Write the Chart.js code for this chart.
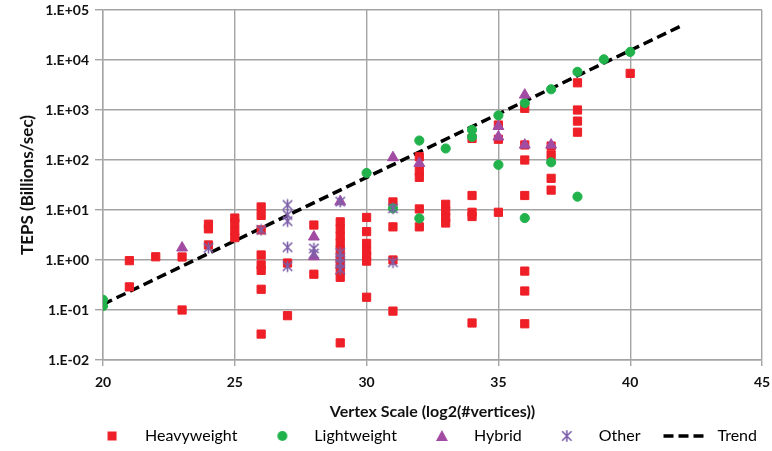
<!DOCTYPE html>
<html><head><meta charset="utf-8">
<script src="https://cdn.jsdelivr.net/npm/chart.js@4.4.0/dist/chart.umd.min.js"></script>
<style>html,body{margin:0;padding:0;background:#fff;}canvas{display:block;}</style>
</head><body>
<canvas id="c" width="772" height="451"></canvas>
<script>
// ---------- data ----------
const seriesNames = ['Heavyweight', 'Lightweight', 'Hybrid', 'Other', 'Trend'];
const heavyweight = [
  [21,0.97],[21,0.29],
  [22,1.16],
  [23,1.15],[23,0.10],
  [24,5.2],[24,4.2],[24,2.0],
  [25,6.9],[25,5.5],[25,3.8],[25,2.8],
  [26,11.5],[26,7.8],[26,4.0],[26,1.26],[26,0.8],[26,0.62],[26,0.26],[26,0.033],
  [27,0.87],[27,0.077],
  [28,5.0],[28,0.52],
  [29,5.8],[29,4.2],[29,3.0],[29,2.2],[29,1.6],[29,1.1],[29,0.8],[29,0.6],[29,0.45],[29,0.022],
  [30,7.1],[30,3.7],[30,2.15],[30,1.5],[30,1.2],[30,0.95],[30,0.18],
  [31,14.5],[31,4.6],[31,1.0],[31,0.095],
  [32,116],[32,60],[32,45],[32,10.5],[32,4.6],
  [33,13],[33,9.5],[33,7.0],[33,5.5],
  [34,270],[34,19.5],[34,9.0],[34,7.4],[34,0.055],
  [35,500],[35,260],[35,9.0],
  [36,1080],[36,200],[36,100],[36,19.5],[36,0.6],[36,0.24],[36,0.053],
  [37,190],[37,126],[37,43],[37,25],
  [38,3500],[38,1000],[38,600],[38,360],
  [40,5400]
];
const lightweight = [
  [20,0.16],[20,0.12],[30,55],[31,10.8],[32,245],[32,6.8],[33,170],
  [34,400],[34,290],[35,780],[35,80],[36,1380],[36,6.9],[37,2600],[37,90],
  [38,5800],[38,18.5],[39,10300],[40,14500]
];
const hybrid = [
  [23,1.75],[28,2.9],[28,1.17],[29,14.7],[31,112],[32,86],
  [35,470],[35,290],[36,2000],[36,200],[37,200]
];
const other = [
  [24,1.75],[26,4.0],[27,12.6],[27,8.0],[27,6.0],[27,1.8],[27,0.75],
  [28,1.7],[28,1.35],[29,14.7],[29,1.4],[29,1.1],[29,0.85],[29,0.65],[31,10.8],[31,0.9]
];
const trend = [[20,0.13],[42,50000]];
const yTickValues = [0.01, 0.1, 1, 10, 100, 1000, 10000, 100000];
const xTickValues = [20, 25, 30, 35, 40, 45];

// ---------- styles ----------
const RED = '#ee1f27', GREEN = '#22b24c', MAGENTA = '#a24ba3', VIOLET = '#7d5fa9';
const FONT = 'Lato';

function markerCanvas(kind, color, W, H, cx) {
  const c = document.createElement('canvas');
  c.width = W; c.height = H;
  const g = c.getContext('2d');
  const cy = H / 2;
  g.fillStyle = color; g.strokeStyle = color;
  if (kind === 'square') { g.fillRect(cx - 4.5, cy - 4.5, 9, 9); }
  else if (kind === 'circle') { g.beginPath(); g.arc(cx, cy, 5, 0, Math.PI * 2); g.fill(); }
  else if (kind === 'triangle') { g.beginPath(); g.moveTo(cx, cy - 6); g.lineTo(cx + 6, cy + 5); g.lineTo(cx - 6, cy + 5); g.closePath(); g.fill(); }
  else if (kind === 'star') {
    g.lineWidth = 1.6; g.beginPath();
    g.moveTo(cx - 4.7, cy - 4.7); g.lineTo(cx + 4.7, cy + 4.7);
    g.moveTo(cx + 4.7, cy - 4.7); g.lineTo(cx - 4.7, cy + 4.7);
    g.moveTo(cx, cy - 5.7); g.lineTo(cx, cy + 5.7);
    g.stroke();
  } else if (kind === 'dash') {
    g.lineWidth = 3.5; g.setLineDash([10, 5]); g.beginPath();
    g.moveTo(cx - 22, cy); g.lineTo(cx + 22, cy); g.stroke();
  }
  return c;
}
const otherPoint = markerCanvas('star', VIOLET, 13, 13, 6.5);

const LEG_W = 64, LEG_C = 40;
const legendMarkers = [
  markerCanvas('square', RED, LEG_W, 16, LEG_C - 1),
  markerCanvas('circle', GREEN, LEG_W, 16, LEG_C),
  markerCanvas('triangle', MAGENTA, LEG_W, 16, LEG_C),
  markerCanvas('star', VIOLET, LEG_W, 16, LEG_C),
  markerCanvas('dash', '#000', LEG_W, 16, 40)
];

function toXY(arr) { return arr.map(p => ({x: p[0], y: p[1]})); }
function fmtExp(v) {
  const e = Math.round(Math.log10(v));
  return '1.E' + (e < 0 ? '-' : '+') + String(Math.abs(e)).padStart(2, '0');
}

function draw() {
  new Chart(document.getElementById('c'), {
    type: 'scatter',
    data: {
      datasets: [
        {label: seriesNames[0], data: toXY(heavyweight), pointStyle: 'rect', pointRadius: 5.8, backgroundColor: RED, borderColor: RED, borderWidth: 1, order: 4},
        {label: seriesNames[1], data: toXY(lightweight), pointStyle: 'circle', pointRadius: 4.6, backgroundColor: GREEN, borderColor: GREEN, borderWidth: 1, order: 3},
        {label: seriesNames[2], data: toXY(hybrid), pointStyle: 'triangle', pointRadius: 6.3, backgroundColor: MAGENTA, borderColor: MAGENTA, borderWidth: 1, order: 2},
        {label: seriesNames[3], data: toXY(other), pointStyle: otherPoint, pointRadius: 6, backgroundColor: VIOLET, borderColor: VIOLET, order: 1},
        {label: seriesNames[4], data: toXY(trend), showLine: true, pointRadius: 0, borderColor: '#000', borderWidth: 3.5, borderDash: [10, 5], fill: false, order: 5}
      ]
    },
    options: {
      responsive: false,
      animation: false,
      events: [],
      layout: {padding: {left: 0, right: 10, top: 10, bottom: -3}},
      scales: {
        x: {
          type: 'linear', min: 20, max: 45,
          afterBuildTicks: s => { s.ticks = xTickValues.map(v => ({value: v})); },
          afterFit: s => { s.height = 63; s.paddingLeft = 0; s.paddingRight = 0; },
          ticks: {font: {family: FONT, weight: 'bold', size: 14}, color: '#111', padding: 8, maxRotation: 0},
          grid: {color: '#a4a4a4', lineWidth: 1.4, tickLength: 6, tickColor: '#a4a4a4'},
          border: {color: '#a4a4a4', width: 1.4},
          title: {display: true, text: 'Vertex Scale (log2(#vertices))', font: {family: FONT, weight: 'bold', size: 16}, color: '#111', padding: {top: 0, bottom: 2}}
        },
        y: {
          type: 'logarithmic', min: 0.01, max: 100000,
          afterBuildTicks: s => { s.ticks = yTickValues.map(v => ({value: v})); },
          afterFit: s => { s.width = 103; s.paddingTop = 0; s.paddingBottom = 0; },
          ticks: {font: {family: FONT, weight: 'bold', size: 14}, color: '#111', padding: 6, autoSkip: false, callback: v => fmtExp(v)},
          grid: {color: '#a4a4a4', lineWidth: 1.4, tickLength: 8, tickColor: '#a4a4a4'},
          border: {color: '#a4a4a4', width: 1.4},
          title: {display: true, text: 'TEPS (Billions/sec)', font: {family: FONT, weight: 'bold', size: 17}, color: '#111', padding: {top: 17, bottom: 0}}
        }
      },
      plugins: {
        tooltip: {enabled: false},
        legend: {
          position: 'bottom', align: 'end',
          labels: {
            usePointStyle: true, pointStyleWidth: LEG_W, padding: 5,
            font: {family: FONT, size: 16}, color: '#262626',
            generateLabels: () => seriesNames.map((n, i) => ({
              text: n, pointStyle: legendMarkers[i], fillStyle: 'transparent', strokeStyle: 'transparent',
              lineWidth: 0, hidden: false, datasetIndex: i
            }))
          }
        }
      }
    }
  });
}
const fontsReady = document.fonts ? Promise.all([
  document.fonts.load('bold 14px Lato'), document.fonts.load('16px Lato')
]).catch(() => {}) : Promise.resolve();
fontsReady.then(draw, draw);
</script>
</body></html>
